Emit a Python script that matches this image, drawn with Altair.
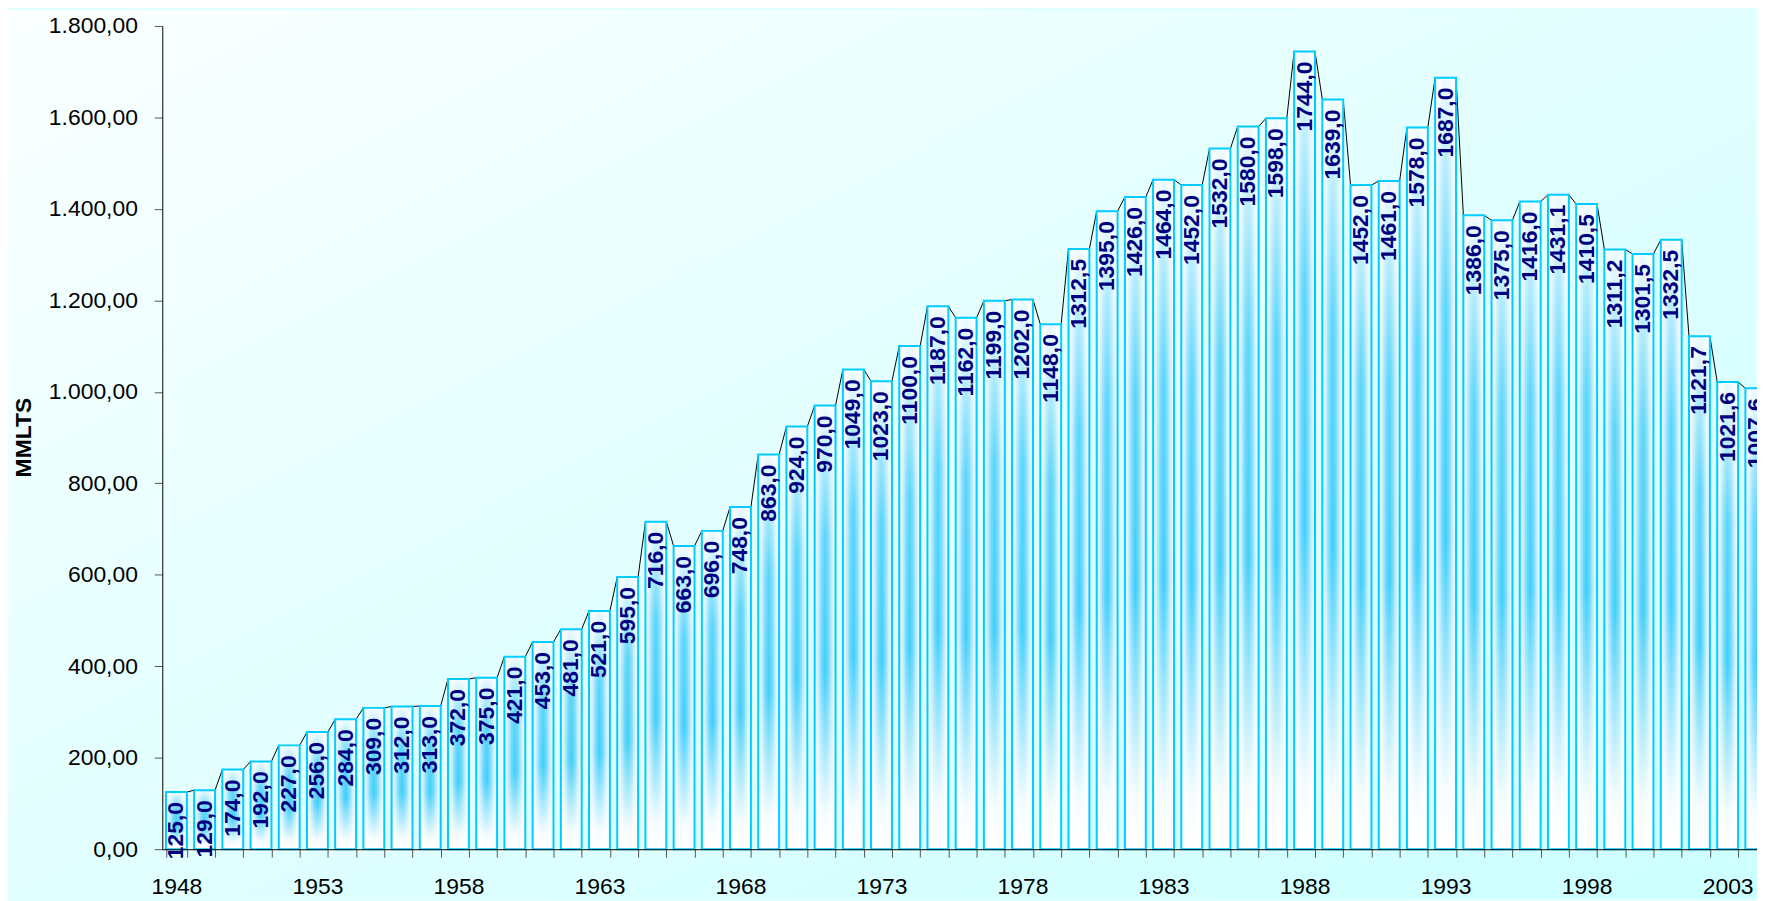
import altair as alt
import pandas as pd

years = list(range(1948, 2005))
values = [125.0, 129.0, 174.0, 192.0, 227.0, 256.0, 284.0, 309.0, 312.0, 313.0,
          372.0, 375.0, 421.0, 453.0, 481.0, 521.0, 595.0, 716.0, 663.0, 696.0,
          748.0, 863.0, 924.0, 970.0, 1049.0, 1023.0, 1100.0, 1187.0, 1162.0, 1199.0,
          1202.0, 1148.0, 1312.5, 1395.0, 1426.0, 1464.0, 1452.0, 1532.0, 1580.0, 1598.0,
          1744.0, 1639.0, 1452.0, 1461.0, 1578.0, 1687.0, 1386.0, 1375.0, 1416.0, 1431.1,
          1410.5, 1311.2, 1301.5, 1332.5, 1121.7, 1021.6, 1007.6]
y_ticks = [0, 200, 400, 600, 800, 1000, 1200, 1400, 1600, 1800]
y_title = "MMLTS"

df = pd.DataFrame({"year": years, "value": values})

FONT = "Liberation Sans"
FS = 23
W, H = 1602, 827

x_scale = alt.Scale(domain=years, range=[0, 1615], paddingInner=0.26, paddingOuter=0.13)
x_axis = alt.Axis(
    labelExpr="(toNumber(datum.value) - 1948) % 5 == 0 ? datum.label : ''",
    labelAngle=0, labelFontSize=FS, labelColor="black", labelPadding=19,
    labelOverlap=False, labelFont=FONT,
    tickSize=8, tickBand="extent", tickColor="#555555",
    domainColor="black", grid=False, zindex=1, title=None,
)
y_axis = alt.Axis(
    values=y_ticks,
    labelExpr="replace(replace(replace(format(datum.value, ',.2f'), ',', '#'), '.', ','), '#', '.')",
    labelFontSize=FS, labelColor="black", labelPadding=17, labelFont=FONT,
    tickSize=8, tickColor="#555555", domainColor="black", grid=False,
    titleFontSize=FS, titleFontWeight="bold", titleColor="black", titleFont=FONT,
    titleX=-139, titleY=413, titleAngle=270, titleBaseline="middle", titleAlign="center",
    zindex=1,
)
y_scale = alt.Scale(domain=[0, 1800], nice=False)

x_enc = alt.X("year:O", scale=x_scale, axis=x_axis)
y_enc = alt.Y("value:Q", scale=y_scale, axis=y_axis, title=y_title)

bg_gradient = {
    "gradient": "linear", "x1": 0, "y1": 0, "x2": 1, "y2": 1,
    "stops": [
        {"offset": 0, "color": "#FBFFFF"},
        {"offset": 0.5, "color": "#E2FFFF"},
        {"offset": 1, "color": "#CCFFFF"},
    ],
}
bg = alt.Chart(pd.DataFrame({"k": [0]})).mark_rect(fill=bg_gradient).encode(
    x=alt.value(-155), x2=alt.value(W), y=alt.value(-16), y2=alt.value(H + 50)
)

rules = alt.Chart(df).transform_window(
    next_year="lead(year)", next_value="lead(value)", sort=[alt.SortField("year")]
).transform_filter("isValid(datum.next_year)").mark_rule(color="black", strokeWidth=1).encode(
    x=alt.X("year:O", scale=x_scale, axis=x_axis, bandPosition=1),
    x2=alt.X2("next_year", bandPosition=0),
    y=y_enc,
    y2=alt.Y2("next_value"),
)

h_gradient = {
    "gradient": "linear", "x1": 0, "y1": 0, "x2": 1, "y2": 0,
    "stops": [
        {"offset": 0, "color": "#F0FAFF"},
        {"offset": 0.15, "color": "#CFEFFD"},
        {"offset": 0.35, "color": "#5CD5FC"},
        {"offset": 0.5, "color": "#2ECBFA"},
        {"offset": 0.65, "color": "#5CD5FC"},
        {"offset": 0.85, "color": "#CFEFFD"},
        {"offset": 1, "color": "#F0FAFF"},
    ],
}
v_gradient = {
    "gradient": "linear", "x1": 0, "y1": 0, "x2": 0, "y2": 1,
    "stops": [
        {"offset": 0, "color": "rgba(255,255,255,0.92)"},
        {"offset": 0.3, "color": "rgba(255,255,255,0.2)"},
        {"offset": 0.6, "color": "rgba(255,255,255,0.08)"},
        {"offset": 0.92, "color": "rgba(255,255,255,0.95)"},
        {"offset": 1, "color": "rgba(255,255,255,1)"},
    ],
}

bars = alt.Chart(df).mark_bar(fill=h_gradient).encode(x=x_enc, y=y_enc)
bars_over = alt.Chart(df).mark_bar(fill=v_gradient, stroke="#00CCFF", strokeWidth=2).encode(x=x_enc, y=y_enc)

labels = alt.Chart(df).transform_calculate(
    label="replace(format(datum.value, '.1f'), '.', ',')"
).mark_text(
    angle=270, align="right", baseline="middle", dx=-10,
    font=FONT, fontSize=FS, fontWeight="bold", color="#000080",
).encode(x=x_enc, y=y_enc, text="label:N")

chart = alt.layer(bg, rules, bars, bars_over, labels).properties(
    width=W, height=H,
    autosize=alt.AutoSizeParams(type="none"),
    padding={"left": 155, "top": 16, "right": 0, "bottom": 50},
).configure(font=FONT, background="#E2FFFF").configure_view(stroke=None)

chart.save("out.html", embed_options={"renderer": "svg", "actions": False})
